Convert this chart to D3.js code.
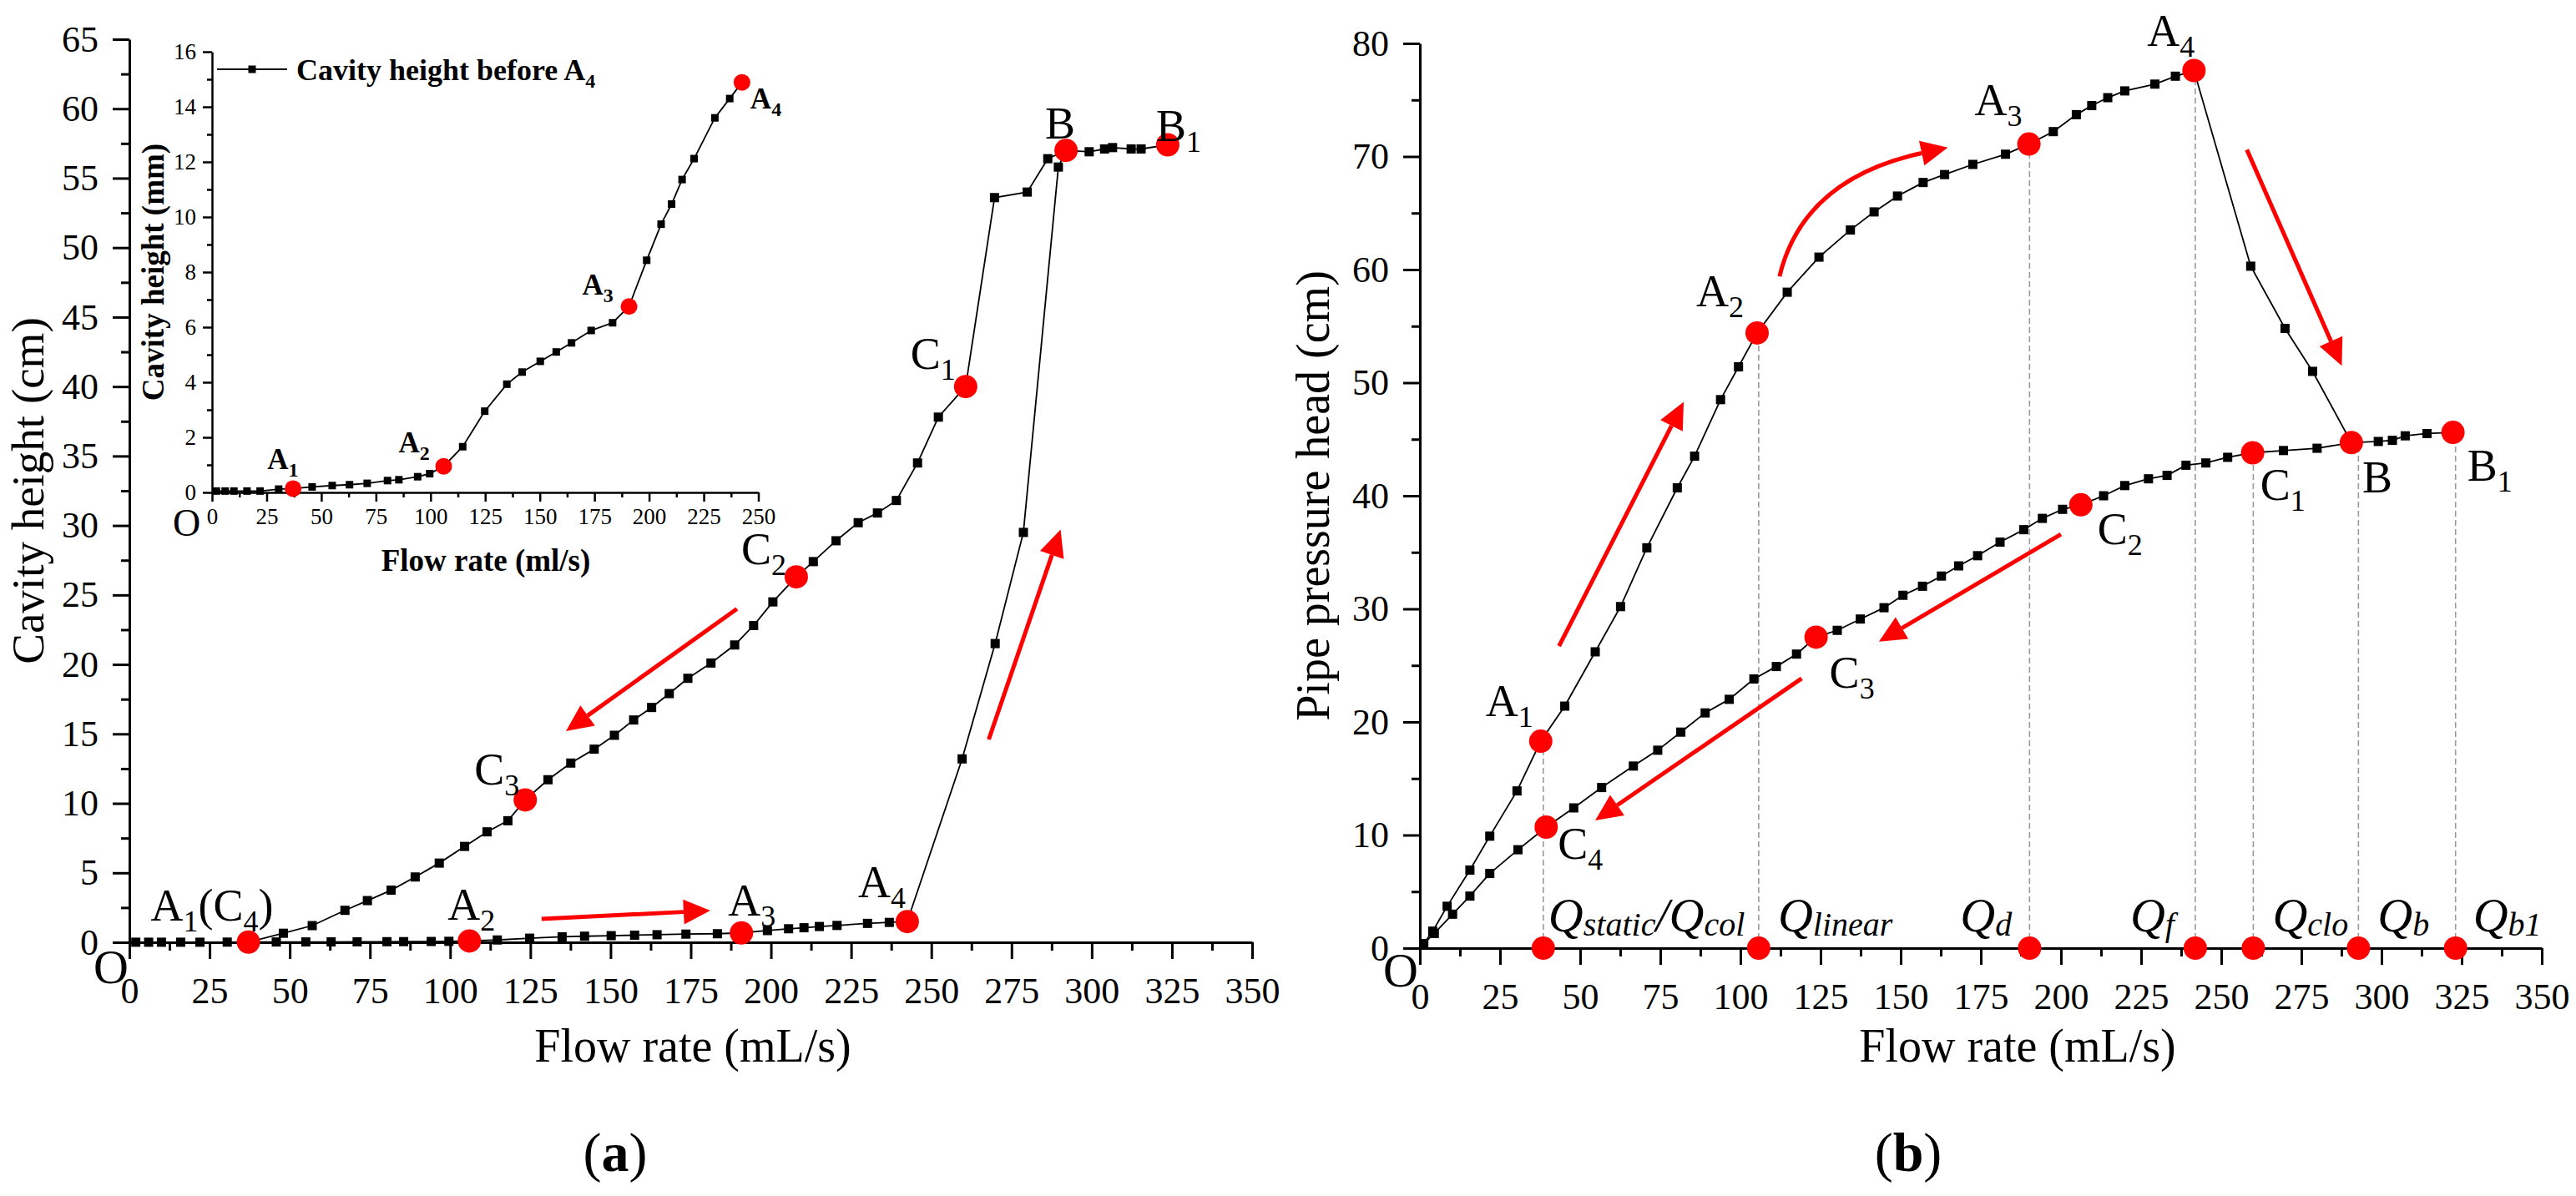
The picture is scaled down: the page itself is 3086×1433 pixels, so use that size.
<!DOCTYPE html>
<html>
<head>
<meta charset="utf-8">
<script src="https://cdn.jsdelivr.net/npm/d3@7"></script>
<style>
  body { margin: 0; background: #fff; }
  text { font-family: "Liberation Serif", "Times New Roman", serif; }
</style>
</head>
<body>
<div id="chart"></div>
<script>
// ---------- data: panel (a) cavity height ----------
// rising branch up to A4 (inset in mm, main chart in cm)
const flowBeforeA4 = [2, 6, 10, 16, 22, 30.5, 37.1, 45.8, 55, 62.9, 71, 80.3, 85.5, 94.1, 99.6,
  106, 114.7, 124.8, 134.9, 141.9, 150.2, 157.5, 164.5, 173.5, 183.3, 190.8, 198.9, 205.5,
  210.3, 215.1, 220.6, 230.1, 236.9, 242.5];
const cavityBeforeA4mm = [0.05, 0.05, 0.05, 0.05, 0.05, 0.12, 0.14, 0.2, 0.25, 0.28, 0.33, 0.43,
  0.46, 0.57, 0.68, 0.95, 1.66, 2.95, 3.93, 4.37, 4.76, 5.1, 5.43, 5.88, 6.16, 6.75, 8.43, 9.74,
  10.47, 11.36, 12.12, 13.6, 14.3, 14.89];
const MM_TO_CM = 0.1;

// rising branch after A4 up to B1 (cm)
const flowRiseAfterA4 = [259.6, 269.9, 278.7, 289.6, 292.0, 299.2, 304.0, 306.5, 312.3, 315.4, 323.7];
const cavityRiseAfterA4 = [13.2, 21.5, 29.5, 55.8, 57.0, 56.9, 57.1, 57.2, 57.1, 57.1, 57.4];

// falling branch B -> C1 -> C4 (cm)
const flowReturn = [292.0, 286.3, 279.9, 269.7, 260.7, 252.2, 245.7, 239.1, 233.2, 227.2, 220.3,
  213.2, 207.9, 200.6, 194.6, 188.7, 181.3, 174.1, 168.3, 162.8, 157.2, 151.2, 144.9, 137.6,
  130.5, 123.4, 118.0, 111.5, 104.5, 96.6, 89.1, 81.6, 74.2, 67.2, 57.0, 48.0, 37.1];
const cavityReturn = [57.0, 56.4, 54.0, 53.6, 40.0, 37.8, 34.5, 31.8, 30.9, 30.2, 28.9, 27.4,
  26.3, 24.5, 22.8, 21.4, 20.1, 19.0, 17.9, 16.9, 16.0, 14.9, 13.9, 12.9, 11.7, 10.25, 8.75,
  7.95, 6.9, 5.7, 4.7, 3.75, 3.0, 2.3, 1.2, 0.65, 0.014];

const cavityKeyNames = ["A_1(C_4)", "A_2", "A_3", "A_4", "B", "B_1", "C_1", "C_2", "C_3"];
const cavityKeyFlow = [37.1, 106.0, 190.8, 242.5, 292.0, 323.7, 260.7, 207.9, 123.4];
const cavityKeyHeight = [0.014, 0.095, 0.675, 1.489, 57.0, 57.4, 40.0, 26.3, 10.25];

const insetKeyNames = ["A_1", "A_2", "A_3", "A_4"];
const insetKeyFlow = [37.1, 106.0, 190.8, 242.5];
const insetKeyHeightMm = [0.14, 0.95, 6.75, 14.89];

// ---------- data: panel (b) pipe pressure head ----------
const flowPressureRise = [1.2, 4.0, 8.5, 15.6, 21.8, 30.3, 37.7, 45.2, 54.7, 62.6, 70.8, 80.3,
  85.7, 93.8, 99.4, 105.2, 114.6, 124.5, 134.3, 141.7, 149.0, 157.0, 163.7, 172.5, 182.7, 190.0,
  197.6, 204.8, 209.6, 214.6, 219.9, 229.3, 235.7, 241.5, 259.2, 269.9, 278.5, 290.6, 299.0,
  303.4, 307.4, 314.2, 322.3];
const headRise = [0.4, 1.5, 3.7, 6.9, 9.9, 13.9, 18.3, 21.4, 26.2, 30.2, 35.4, 40.7, 43.5, 48.5,
  51.4, 54.4, 58.0, 61.1, 63.5, 65.1, 66.5, 67.7, 68.4, 69.3, 70.2, 71.1, 72.2, 73.7, 74.5, 75.2,
  75.8, 76.4, 77.1, 77.6, 60.3, 54.8, 51.0, 44.7, 44.8, 44.9, 45.3, 45.5, 45.6];

const flowPressureReturn = [290.6, 279.9, 269.4, 259.8, 252.0, 245.2, 239.0, 233.1, 227.3, 219.9,
  213.3, 206.2, 200.5, 194.2, 188.4, 181.0, 174.0, 168.1, 162.7, 156.8, 150.7, 144.8, 137.4,
  130.2, 123.6, 117.5, 111.2, 104.2, 96.5, 89.0, 81.4, 74.2, 66.6, 56.7, 48.0, 39.4, 30.6, 21.8,
  15.6, 10.2, 4.5, 1.2];
const headReturn = [44.7, 44.2, 44.0, 43.8, 43.4, 42.9, 42.7, 41.8, 41.5, 40.9, 40.0, 39.2, 38.8,
  38.0, 37.0, 35.9, 34.7, 33.8, 32.9, 32.0, 31.2, 30.1, 29.1, 28.1, 27.5, 26.0, 24.9, 23.8, 22.0,
  20.8, 19.1, 17.5, 16.1, 14.2, 12.4, 10.7, 8.7, 6.6, 4.6, 3.0, 1.3, 0.4];

const pressureKeyNames = ["A_1", "A_2", "A_3", "A_4", "B", "B_1", "C_1", "C_2", "C_3", "C_4"];
const pressureKeyFlow = [37.7, 105.2, 190.0, 241.5, 290.6, 322.3, 259.8, 206.2, 123.6, 39.4];
const pressureKeyHead = [18.3, 54.4, 71.1, 77.6, 44.7, 45.6, 43.8, 39.2, 27.5, 10.7];

const qNames = ["Q_{static}/Q_{col}", "Q_{linear}", "Q_{d}", "Q_{f}", "Q_{clo}", "Q_{b}", "Q_{b1}"];
const qFlow = [38.5, 105.7, 190.2, 241.9, 260.0, 292.8, 323.1];
const qPoint = ["A_1", "A_2", "A_3", "A_4", "C_1", "B", "B_1"];

// ---------- ticks ----------
const flowTicks = [0, 25, 50, 75, 100, 125, 150, 175, 200, 225, 250, 275, 300, 325, 350];
const cavityTicks = [0, 5, 10, 15, 20, 25, 30, 35, 40, 45, 50, 55, 60, 65];
const insetFlowTicks = [0, 25, 50, 75, 100, 125, 150, 175, 200, 225, 250];
const insetCavityTicks = [0, 2, 4, 6, 8, 10, 12, 14, 16];
const headTicks = [0, 10, 20, 30, 40, 50, 60, 70, 80];
const mid = a => d3.pairs(a).map(([p, q]) => (p + q) / 2);

// ---------- arrows (data coordinates) ----------
const cavityArrows = [
  [[128.5, 1.68], [181.1, 2.28]],
  [[189.4, 24.0], [136.1, 15.2]],
  [[267.9, 14.6], [290.3, 29.7]]
];
const pressureArrows = [
  [[43.4, 26.7], [82.3, 48.3]],
  [[112.2, 59.4], [119.5, 68.0], [164.7, 70.8]],
  [[258.0, 70.6], [287.6, 51.5]],
  [[200.0, 36.6], [143.2, 27.1]],
  [[119.1, 23.85], [54.7, 11.3]]
];

// ---------- layout ----------
const W = 3086, H = 1433;
const RED = "#ff0000";

const svg = d3.select("#chart").append("svg")
  .attr("width", W).attr("height", H)
  .style("background", "#fff");

// scales
const xA = d3.scaleLinear().domain([0, 350]).range([155, 1500]);
const yA = d3.scaleLinear().domain([0, 65]).range([1129, 47]);
const xIn = d3.scaleLinear().domain([0, 250]).range([254, 908.5]);
const yIn = d3.scaleLinear().domain([0, 16]).range([590, 62]);
const xB = d3.scaleLinear().domain([0, 350]).range([1701, 3045]);
const yB = d3.scaleLinear().domain([0, 80]).range([1136, 52]);

// text with simple subscript markup: A_1, Q_{clo}
function richText(g, x, y, str, o) {
  const t = g.append("text")
    .attr("x", x).attr("y", y)
    .attr("font-size", o.size)
    .attr("font-weight", o.weight || "normal")
    .attr("font-style", o.italic ? "italic" : "normal")
    .attr("text-anchor", o.anchor || "start")
    .attr("fill", "#000");
  const re = /_\{([^}]*)\}|_(.)/g;
  const parts = [];
  let last = 0, m;
  while ((m = re.exec(str))) {
    if (m.index > last) parts.push([str.slice(last, m.index), false]);
    parts.push([m[1] !== undefined ? m[1] : m[2], true]);
    last = re.lastIndex;
  }
  if (last < str.length) parts.push([str.slice(last), false]);
  let down = false;
  parts.forEach(([s, sub]) => {
    const ts = t.append("tspan").text(s);
    if (sub) {
      ts.attr("font-size", o.sub);
      if (!down) { ts.attr("dy", o.shift); down = true; }
    } else if (down) {
      ts.attr("dy", -o.shift); down = false;
    }
  });
  return t;
}

function drawAxes(g, x, y, o) {
  const x0 = x.range()[0], y0 = y.range()[0];
  const style = sel => {
    sel.attr("font-family", null).attr("font-size", o.font);
    sel.selectAll("path, line").attr("stroke", "#000").attr("stroke-width", o.sw);
    sel.selectAll("text").attr("fill", "#000");
  };
  g.append("g").attr("transform", `translate(0,${y0})`)
    .call(d3.axisBottom(x).tickValues(mid(o.xTicks)).tickSize(o.minor).tickFormat(""))
    .call(style).select(".domain").remove();
  g.append("g").attr("transform", `translate(${x0},0)`)
    .call(d3.axisLeft(y).tickValues(mid(o.yTicks)).tickSize(o.minor).tickFormat(""))
    .call(style).select(".domain").remove();
  g.append("g").attr("transform", `translate(0,${y0})`)
    .call(d3.axisBottom(x).tickValues(o.xTicks).tickSize(o.major).tickSizeOuter(0).tickPadding(o.xPad))
    .call(style);
  g.append("g").attr("transform", `translate(${x0},0)`)
    .call(d3.axisLeft(y).tickValues(o.yTicks).tickSize(o.major).tickSizeOuter(0).tickPadding(o.yPad))
    .call(style);
}

function drawSeries(g, x, y, xs, ys, size, lw) {
  const pts = xs.map((v, i) => [v, ys[i]]);
  g.append("path").datum(pts)
    .attr("fill", "none").attr("stroke", "#000").attr("stroke-width", lw)
    .attr("d", d3.line().x(d => x(d[0])).y(d => y(d[1])));
  g.selectAll(null).data(pts).join("rect")
    .attr("x", d => x(d[0]) - size / 2).attr("y", d => y(d[1]) - size / 2)
    .attr("width", size).attr("height", size).attr("fill", "#000");
}

function drawKeys(g, x, y, names, xs, ys, r, offsets, font) {
  names.forEach((n, i) => {
    g.append("circle").attr("cx", x(xs[i])).attr("cy", y(ys[i])).attr("r", r).attr("fill", RED);
  });
  names.forEach((n, i) => {
    const off = offsets[n];
    richText(g, x(xs[i]) + off[0], y(ys[i]) + off[1], n, font);
  });
}

function drawArrow(g, x, y, pts) {
  const p = pts.map(d => [x(d[0]), y(d[1])]);
  const tip = p[p.length - 1], prev = p[p.length - 2];
  const dx = tip[0] - prev[0], dy = tip[1] - prev[1], len = Math.hypot(dx, dy);
  const ux = dx / len, uy = dy / len;
  const L = 32, HW = 15;
  const base = [tip[0] - ux * L, tip[1] - uy * L];
  const d = p.length === 3
    ? `M${p[0]}Q${p[1]} ${base}`
    : `M${p[0]}L${base}`;
  g.append("path").attr("d", d).attr("fill", "none")
    .attr("stroke", RED).attr("stroke-width", 5);
  g.append("path")
    .attr("d", `M${tip}L${base[0] - uy * HW},${base[1] + ux * HW}L${base[0] + uy * HW},${base[1] - ux * HW}Z`)
    .attr("fill", RED);
}

const mainFont = { size: 54, sub: 36, shift: 13 };
const insetFont = { size: 35, sub: 24, shift: 9, weight: "bold" };

// =============== panel (a) ===============
const gA = svg.append("g");
drawAxes(gA, xA, yA, { xTicks: flowTicks, yTicks: cavityTicks, major: 20, minor: 10,
  sw: 3, font: 44, xPad: 22, yPad: 17 });

// inset
const gIn = gA.append("g");
drawAxes(gIn, xIn, yIn, { xTicks: insetFlowTicks, yTicks: insetCavityTicks, major: 11, minor: 6,
  sw: 2.5, font: 27, xPad: 8, yPad: 8 });
drawSeries(gIn, xIn, yIn, flowBeforeA4, cavityBeforeA4mm, 9, 1.8);
drawKeys(gIn, xIn, yIn, insetKeyNames, insetKeyFlow, insetKeyHeightMm, 10,
  { "A_1": [-31, -23], "A_2": [-54, -17], "A_3": [-56, -14], "A_4": [10, 31] }, insetFont);

// inset legend
gIn.append("line").attr("x1", 260).attr("x2", 344).attr("y1", 83).attr("y2", 83)
  .attr("stroke", "#000").attr("stroke-width", 2);
gIn.append("rect").attr("x", 302 - 4.5).attr("y", 83 - 4.5).attr("width", 9).attr("height", 9);
richText(gIn, 355, 96, "Cavity height before A_4", { size: 36, sub: 24, shift: 9, weight: "bold" });

// inset axis titles
gIn.append("text").attr("transform", "translate(196,326) rotate(-90)")
  .attr("text-anchor", "middle").attr("font-size", 37).attr("font-weight", "bold")
  .text("Cavity height (mm)");
gIn.append("text").attr("x", 582).attr("y", 684)
  .attr("text-anchor", "middle").attr("font-size", 37).attr("font-weight", "bold")
  .text("Flow rate (ml/s)");
gIn.append("text").attr("x", 207).attr("y", 642).attr("font-size", 46).text("O");

// main series
drawSeries(gA, xA, yA,
  flowBeforeA4.concat(flowRiseAfterA4),
  cavityBeforeA4mm.map(v => v * MM_TO_CM).concat(cavityRiseAfterA4), 11, 1.8);
drawSeries(gA, xA, yA, flowReturn, cavityReturn, 11, 1.8);
drawKeys(gA, xA, yA, cavityKeyNames, cavityKeyFlow, cavityKeyHeight, 14, {
  "A_1(C_4)": [-117, -26], "A_2": [-26, -25], "A_3": [-16, -21], "A_4": [-59, -29],
  "C_3": [-61, -18], "C_2": [-66, -15], "C_1": [-66, -21], "B": [-25, -14], "B_1": [-14, -5]
}, mainFont);
cavityArrows.forEach(a => drawArrow(gA, xA, yA, a));

gA.append("text").attr("transform", "translate(52,588) rotate(-90)")
  .attr("text-anchor", "middle").attr("font-size", 55).text("Cavity height (cm)");
gA.append("text").attr("x", 830).attr("y", 1272)
  .attr("text-anchor", "middle").attr("font-size", 56).text("Flow rate (mL/s)");
gA.append("text").attr("x", 112).attr("y", 1178).attr("font-size", 58).text("O");
const capA = gA.append("text").attr("x", 737).attr("y", 1403)
  .attr("text-anchor", "middle").attr("font-size", 66);
capA.append("tspan").text("(");
capA.append("tspan").attr("font-weight", "bold").text("a");
capA.append("tspan").text(")");

// =============== panel (b) ===============
const gB = svg.append("g");
drawAxes(gB, xB, yB, { xTicks: flowTicks, yTicks: headTicks, major: 20, minor: 10,
  sw: 3, font: 44, xPad: 22, yPad: 17 });

// dashed guide lines from the axis up to the key points
qFlow.forEach((q, i) => {
  const k = pressureKeyNames.indexOf(qPoint[i]);
  gB.append("line")
    .attr("x1", xB(q)).attr("x2", xB(q))
    .attr("y1", yB(0)).attr("y2", yB(pressureKeyHead[k]))
    .attr("stroke", "#9a9a9a").attr("stroke-width", 1.6).attr("stroke-dasharray", "7,4");
});

drawSeries(gB, xB, yB, flowPressureRise, headRise, 11, 1.8);
drawSeries(gB, xB, yB, flowPressureReturn, headReturn, 11, 1.8);
drawKeys(gB, xB, yB, pressureKeyNames, pressureKeyFlow, pressureKeyHead, 14, {
  "A_1": [-66, -30], "C_4": [14, 38], "C_3": [16, 61], "C_2": [20, 47], "C_1": [9, 56],
  "B": [13, 60], "B_1": [17, 58], "A_2": [-73, -32], "A_3": [-65, -35], "A_4": [-56, -30]
}, mainFont);

// Q markers on the flow axis
const qOffset = [6, 23, -83, -78, 23, 23, 21];
qFlow.forEach((q, i) => {
  gB.append("circle").attr("cx", xB(q)).attr("cy", yB(0)).attr("r", 14).attr("fill", RED);
  richText(gB, xB(q) + qOffset[i], yB(0) - 20, qNames[i],
    { size: 58, sub: 40, shift: 5, italic: true });
});
pressureArrows.forEach(a => drawArrow(gB, xB, yB, a));

gB.append("text").attr("transform", "translate(1592,594) rotate(-90)")
  .attr("text-anchor", "middle").attr("font-size", 56).text("Pipe pressure head (cm)");
gB.append("text").attr("x", 2417).attr("y", 1272)
  .attr("text-anchor", "middle").attr("font-size", 56).text("Flow rate (mL/s)");
gB.append("text").attr("x", 1657).attr("y", 1182).attr("font-size", 58).text("O");
const capB = gB.append("text").attr("x", 2286).attr("y", 1403)
  .attr("text-anchor", "middle").attr("font-size", 66);
capB.append("tspan").text("(");
capB.append("tspan").attr("font-weight", "bold").text("b");
capB.append("tspan").text(")");
</script>
</body>
</html>
